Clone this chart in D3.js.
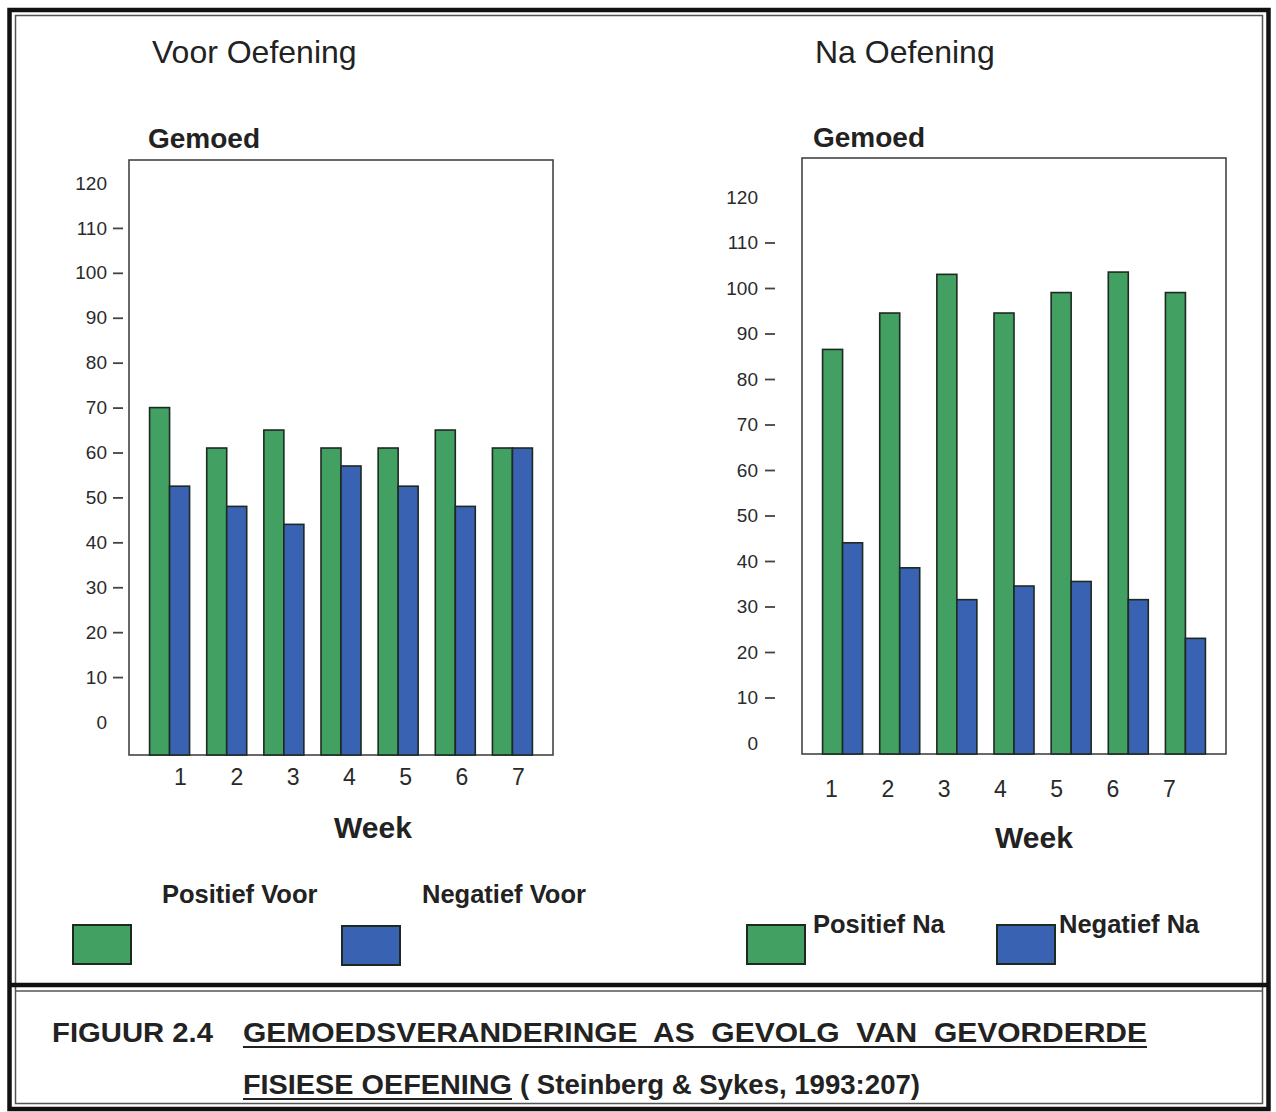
<!DOCTYPE html>
<html>
<head>
<meta charset="utf-8">
<script src="https://cdnjs.cloudflare.com/ajax/libs/d3/7.8.5/d3.min.js"></script>
<style>
    body { margin: 0; background: #fff; }
    svg text { font-family: "Liberation Sans", Arial, sans-serif; fill: #222; }
    .tick-label { font-size: 19px; fill: #2a2a2a; }
    .week-label { font-size: 23px; fill: #2a2a2a; }
    .panel-title { font-size: 32px; }
    .y-title { font-size: 28px; font-weight: bold; }
    .x-title { font-size: 30px; font-weight: bold; }
    .legend-label { font-size: 25.5px; font-weight: bold; }
    .caption { font-family: "Liberation Sans Narrow", "Liberation Sans", Arial, sans-serif; font-size: 28px; font-weight: bold; }
</style>
</head>
<body>
<div id="figure"></div>
<script>

// Data
var weeks = ["1", "2", "3", "4", "5", "6", "7"];
var positiefVoor = [70, 61, 65, 61, 61, 65, 61];
var negatiefVoor = [52.5, 48, 44, 57, 52.5, 48, 61];
var positiefNa = [86.5, 94.5, 103, 94.5, 99, 103.5, 99];
var negatiefNa = [44, 38.5, 31.5, 34.5, 35.5, 31.5, 23];
var yTicks = [0, 10, 20, 30, 40, 50, 60, 70, 80, 90, 100, 110, 120];

var colors = ["#41a062", "#3a62b3"];

var svg = d3.select('#figure')
    .append('svg')
    .attr('width', 1276)
    .attr('height', 1112);

/**
 * GemoedChart
 * @param _svg  -- svg to draw into
 * @param _opts -- placement of this panel
 */
GemoedChart = function(_svg, _opts) {
    this.root = _svg;
    this.opts = _opts;
    this.initVisualization();
}

GemoedChart.prototype.initVisualization = function() {
    var vis = this;
    var o = vis.opts;

    vis.width = o.width;
    vis.height = o.height;

    // panel title
    vis.root.append('text')
        .attr('class', 'panel-title')
        .attr('x', o.titleX)
        .attr('y', 63)
        .text(o.title);

    vis.root.append('text')
        .attr('class', 'y-title')
        .attr('x', o.gemoedX)
        .attr('y', o.gemoedY)
        .text('Gemoed');

    vis.svg = vis.root.append('g')
        .attr('transform', 'translate(' + o.left + ',' + o.top + ')');

    // scales (the scanned axis puts 0 above the plot floor)
    vis.x = d3.scaleBand()
        .domain(weeks)
        .range([0, vis.width])
        .paddingInner(0.3)
        .paddingOuter(0.36);

    vis.x1 = d3.scaleBand()
        .domain([0, 1])
        .range([0, vis.x.bandwidth()]);

    vis.y = d3.scaleLinear()
        .domain([0, 120])
        .range([o.zeroY, o.topY]);

    vis.xLabels = d3.scalePoint()
        .domain(weeks)
        .range([o.weekStart, o.weekStart + 6 * 56.3]);

    vis.updateVisualization();
}

GemoedChart.prototype.updateVisualization = function() {
    var vis = this;
    var o = vis.opts;
    var series = [o.pos, o.neg];

    // frame
    vis.svg.append('rect')
        .attr('width', vis.width)
        .attr('height', vis.height)
        .attr('fill', 'none')
        .attr('stroke', '#444')
        .attr('stroke-width', 1.6);

    // y axis
    var yAxis = d3.axisLeft(vis.y)
        .tickValues(yTicks)
        .tickSize(10)
        .tickPadding(o.tickPad);

    var yg = vis.svg.append('g')
        .attr('class', 'y-axis')
        .attr('transform', 'translate(' + (-o.tickOffset) + ',0)')
        .call(yAxis);
    yg.select('.domain').remove();
    yg.selectAll('.tick line')
        .attr('stroke', '#444')
        .attr('stroke-width', 1.8)
        .attr('display', function(d) { return (d === 0 || d === 120) ? 'none' : null; });
    yg.selectAll('.tick text')
        .attr('class', 'tick-label')
        .attr('fill', null);

    // week labels
    var xAxis = d3.axisBottom(vis.xLabels).tickSize(0).tickPadding(0);
    var xg = vis.svg.append('g')
        .attr('transform', 'translate(0,' + o.weekY + ')')
        .call(xAxis);
    xg.select('.domain').remove();
    xg.selectAll('.tick text')
        .attr('class', 'week-label')
        .attr('fill', null)
        .attr('dy', '0.35em');

    vis.svg.append('text')
        .attr('class', 'x-title')
        .attr('text-anchor', 'middle')
        .attr('x', o.weekTitleX - o.left)
        .attr('y', o.weekTitleY - o.top)
        .text('Week');

    // bars
    series.forEach(function(s, i) {
        vis.svg.selectAll('.bar' + i)
            .data(s)
            .enter()
            .append('rect')
            .attr('class', 'bar' + i)
            .attr('x', function(d, j) { return vis.x(weeks[j]) + vis.x1(i); })
            .attr('y', function(d) { return vis.y(d); })
            .attr('width', vis.x1.bandwidth())
            .attr('height', function(d) { return vis.height - vis.y(d); })
            .attr('fill', colors[i])
            .attr('stroke', '#1d2a22')
            .attr('stroke-width', 1.6);
    });
}

var leftChart = new GemoedChart(svg, {
    title: 'Voor Oefening', titleX: 152,
    gemoedX: 148, gemoedY: 148,
    left: 129, top: 160, width: 424, height: 595,
    zeroY: 562, topY: 23,
    tickOffset: 6, tickPad: 6,
    weekStart: 51, weekY: 617,
    weekTitleX: 373, weekTitleY: 838,
    pos: positiefVoor, neg: negatiefVoor
});

var rightChart = new GemoedChart(svg, {
    title: 'Na Oefening', titleX: 815,
    gemoedX: 813, gemoedY: 147,
    left: 802, top: 158, width: 424, height: 596,
    zeroY: 585, topY: 39,
    tickOffset: 27, tickPad: 7,
    weekStart: 29, weekY: 631,
    weekTitleX: 1034, weekTitleY: 848,
    pos: positiefNa, neg: negatiefNa
});

// legends
var legendItems = [
    { label: 'Positief Voor', c: 0, bx: 73, by: 925, tx: 162, ty: 903 },
    { label: 'Negatief Voor', c: 1, bx: 342, by: 926, tx: 422, ty: 903 },
    { label: 'Positief Na', c: 0, bx: 747, by: 925, tx: 813, ty: 933 },
    { label: 'Negatief Na', c: 1, bx: 997, by: 925, tx: 1059, ty: 933 }
];

legendItems.forEach(function(d) {
    svg.append('rect')
        .attr('x', d.bx).attr('y', d.by)
        .attr('width', 58).attr('height', 39)
        .attr('fill', colors[d.c])
        .attr('stroke', '#1d2a22')
        .attr('stroke-width', 2);
    svg.append('text')
        .attr('class', 'legend-label')
        .attr('x', d.tx).attr('y', d.ty)
        .text(d.label);
});

// borders (double lines like the scan)
var thick = 4.5, thin = 1.5;
svg.append('rect').attr('x', 9.5).attr('y', 10).attr('width', 1259).attr('height', 1099)
    .attr('fill', 'none').attr('stroke', '#111').attr('stroke-width', thick);
svg.append('rect').attr('x', 15.5).attr('y', 15.5).attr('width', 1247).attr('height', 1088)
    .attr('fill', 'none').attr('stroke', '#555').attr('stroke-width', thin);
svg.append('line').attr('x1', 9).attr('x2', 1269).attr('y1', 985).attr('y2', 985)
    .attr('stroke', '#111').attr('stroke-width', thick);
svg.append('line').attr('x1', 15).attr('x2', 1263).attr('y1', 991).attr('y2', 991)
    .attr('stroke', '#555').attr('stroke-width', thin);

// caption
var captions = [
    { text: 'FIGUUR 2.4', x: 52, y: 1042, w: 161, u: false },
    { text: 'GEMOEDSVERANDERINGE  AS  GEVOLG  VAN  GEVORDERDE', x: 243, y: 1042, w: 904, u: true },
    { text: 'FISIESE OEFENING', x: 243, y: 1094, w: 269, u: true },
    { text: '( Steinberg & Sykes, 1993:207)', x: 520, y: 1094, w: 400, u: false }
];

captions.forEach(function(d) {
    svg.append('text')
        .attr('class', 'caption')
        .attr('x', d.x).attr('y', d.y)
        .attr('textLength', d.w)
        .attr('lengthAdjust', 'spacingAndGlyphs')
        .style('white-space', 'pre')
        .text(d.text);
    if (d.u) {
        svg.append('line')
            .attr('x1', d.x).attr('x2', d.x + d.w)
            .attr('y1', d.y + 5).attr('y2', d.y + 5)
            .attr('stroke', '#222').attr('stroke-width', 2.2);
    }
});

</script>
</body>
</html>
